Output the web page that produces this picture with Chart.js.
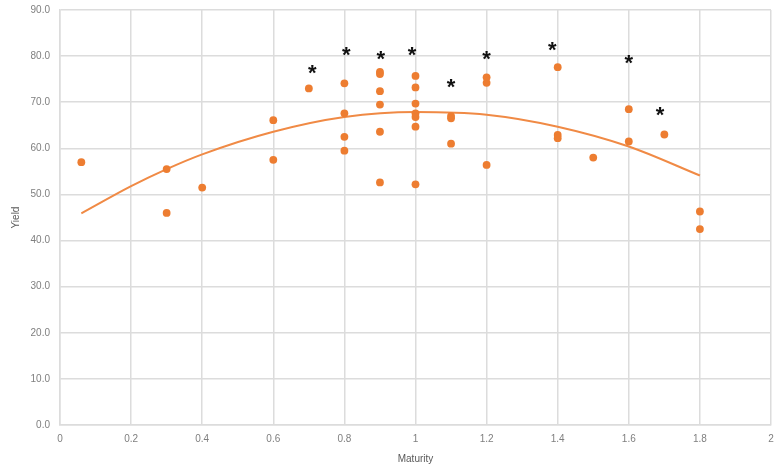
<!DOCTYPE html>
<html>
<head>
<meta charset="utf-8">
<script src="https://cdn.jsdelivr.net/npm/chart.js@4/dist/chart.umd.min.js"></script>
<style>
  html, body { margin: 0; padding: 0; background: #ffffff; }
  #wrap { width: 784px; height: 468px; position: relative; }
</style>
</head>
<body>
<div id="wrap"><canvas id="c" width="784" height="468"></canvas></div>
<script>
// ---- data ----
const maturity = [0.06, 0.3, 0.3, 0.4, 0.6, 0.6, 0.7, 0.8, 0.8, 0.8, 0.8,
  0.9, 0.9, 0.9, 0.9, 0.9, 0.9, 1.0, 1.0, 1.0, 1.0, 1.0, 1.0, 1.0,
  1.1, 1.1, 1.1, 1.2, 1.2, 1.2, 1.4, 1.4, 1.4, 1.5, 1.6, 1.6, 1.7, 1.8, 1.8];
const yieldVals = [57.0, 55.5, 46.0, 51.5, 66.1, 57.5, 73.0, 74.1, 67.6, 62.5, 59.5,
  76.6, 76.1, 72.4, 69.5, 63.6, 52.6, 75.7, 73.2, 69.7, 67.6, 66.8, 64.7, 52.2,
  67.0, 66.5, 61.0, 75.4, 74.2, 56.4, 77.6, 62.9, 62.2, 58.0, 68.5, 61.5, 63.0, 46.3, 42.5];

// trend curve
const trendX = [0.06, 0.2, 0.3, 0.4, 0.6, 0.8, 1.0, 1.2, 1.4, 1.6, 1.8];
const trendY = [45.9, 51.8, 55.5, 58.7, 63.6, 66.8, 67.9, 67.3, 64.7, 60.4, 54.1];

const starX = [0.71, 0.805, 0.902, 0.99, 1.10, 1.2, 1.385, 1.6, 1.688];
const starY = [77.5, 81.5, 80.6, 81.5, 74.6, 80.6, 82.6, 79.7, 68.5];
const starText = ['*', '*', '*', '*', '*', '*', '*', '*', '*'];

const xTicks = [0, 0.2, 0.4, 0.6, 0.8, 1, 1.2, 1.4, 1.6, 1.8, 2];
const yTicks = [0, 10, 20, 30, 40, 50, 60, 70, 80, 90];

// ---- build ----
const scatterData = maturity.map((x, i) => ({ x: x, y: yieldVals[i] }));
const trendData = trendX.map((x, i) => ({ x: x, y: trendY[i] }));

const starPlugin = {
  id: 'stars',
  afterDatasetsDraw(chart) {
    const ctx = chart.ctx;
    const xs = chart.scales.x, ys = chart.scales.y;
    const size = 22;
    ctx.save();
    ctx.fillStyle = '#111111';
    ctx.font = 'bold ' + size + 'px "Liberation Sans", Arial, sans-serif';
    ctx.textAlign = 'center';
    ctx.textBaseline = 'alphabetic';
    starX.forEach((x, i) => {
      const px = xs.getPixelForValue(x);
      const py = ys.getPixelForValue(starY[i]);
      ctx.fillText(starText[i], px, py + size * 0.57);
    });
    ctx.restore();
  }
};

const tickFont = { family: '"Liberation Sans", Arial, sans-serif', size: 10 };
const gridColor = '#dcdcdc';

new Chart(document.getElementById('c'), {
  type: 'scatter',
  data: {
    datasets: [
      {
        label: 'Yield',
        data: scatterData,
        backgroundColor: '#ed7d31',
        borderColor: '#ed7d31',
        pointRadius: 3.9,
        pointHoverRadius: 3.9,
        borderWidth: 0,
        order: 1
      },
      {
        label: 'Trend',
        type: 'line',
        data: trendData,
        borderColor: '#f08a45',
        borderWidth: 2,
        pointRadius: 0,
        fill: false,
        cubicInterpolationMode: 'monotone',
        order: 2
      }
    ]
  },
  options: {
    responsive: false,
    animation: false,
    devicePixelRatio: 1,
    layout: { padding: { top: 10, right: 13, left: 10, bottom: 0 } },
    plugins: {
      legend: { display: false },
      tooltip: { enabled: false }
    },
    scales: {
      x: {
        type: 'linear',
        min: 0, max: 2,
        afterBuildTicks(axis) { axis.ticks = xTicks.map(v => ({ value: v })); },
        afterFit(axis) { axis.height = 43; axis.paddingLeft = 0; axis.paddingRight = 0; },
        grid: { color: gridColor, lineWidth: 1.5, drawTicks: false },
        border: { color: gridColor, width: 1.5 },
        ticks: {
          color: '#7f7f7f', font: tickFont, padding: 8, maxRotation: 0,
          callback: v => String(Number(v.toFixed(1)))
        },
        title: {
          display: true, text: 'Maturity', color: '#595959',
          font: { family: '"Liberation Sans", Arial, sans-serif', size: 10 },
          padding: { top: 4, bottom: 3 }
        }
      },
      y: {
        type: 'linear',
        min: 0, max: 90,
        afterBuildTicks(axis) { axis.ticks = yTicks.map(v => ({ value: v })); },
        afterFit(axis) { axis.width = 50; axis.paddingTop = 0; axis.paddingBottom = 0; },
        grid: { color: gridColor, lineWidth: 1.5, drawTicks: false },
        border: { color: gridColor, width: 1.5 },
        ticks: {
          color: '#7f7f7f', font: tickFont, padding: 10,
          callback: v => Number(v).toFixed(1)
        },
        title: {
          display: true, text: 'Yield', color: '#595959',
          font: { family: '"Liberation Sans", Arial, sans-serif', size: 10 },
          padding: { top: 0, bottom: 4 }
        }
      }
    }
  },
  plugins: [starPlugin]
});
</script>
</body>
</html>
